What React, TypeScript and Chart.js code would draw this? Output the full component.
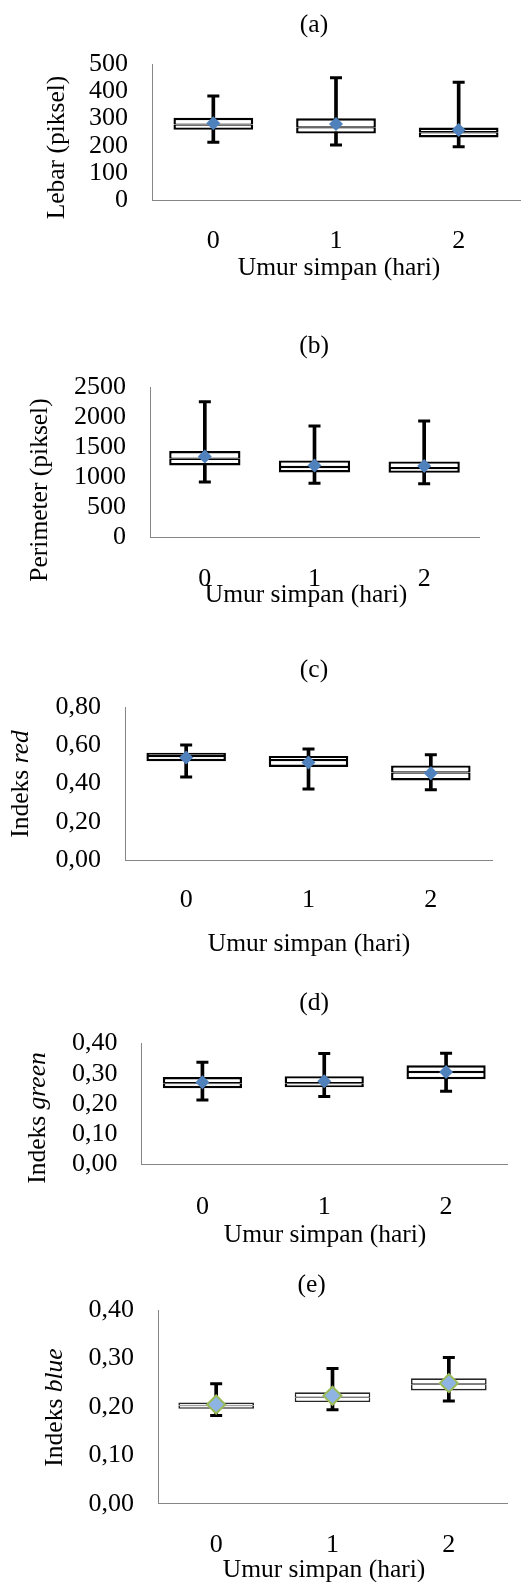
import React, { useEffect, useRef } from 'react';
import { Chart, registerables } from 'chart.js';

Chart.register(...registerables);

const FONT = "'Liberation Serif', 'Times New Roman', Times, serif";

const categories = ['0', '1', '2'];

// (a) Lebar (piksel)
const lebarMin = [213, 203, 197];
const lebarQ1 = [259, 245, 231];
const lebarMedian = [278, 268, 250];
const lebarQ3 = [303, 301, 267];
const lebarMax = [383, 450, 433];
const lebarMean = [283, 280, 258];
const lebarTicks = [0, 100, 200, 300, 400, 500];

// (b) Perimeter (piksel)
const perimeterMin = [920, 903, 892];
const perimeterQ1 = [1197, 1080, 1075];
const perimeterMedian = [1308, 1170, 1153];
const perimeterQ3 = [1437, 1280, 1263];
const perimeterMax = [2253, 1853, 1937];
const perimeterMean = [1347, 1197, 1187];
const perimeterTicks = [0, 500, 1000, 1500, 2000, 2500];

// (c) Indeks red
const redMin = [0.435, 0.372, 0.368];
const redQ1 = [0.517, 0.487, 0.417];
const redMedian = [0.544, 0.523, 0.458];
const redQ3 = [0.561, 0.544, 0.495];
const redMax = [0.602, 0.581, 0.551];
const redMean = [0.537, 0.511, 0.454];
const redTicks = [0, 0.2, 0.4, 0.6, 0.8];

// (d) Indeks green
const greenMin = [0.213, 0.225, 0.242];
const greenQ1 = [0.252, 0.255, 0.282];
const greenMedian = [0.269, 0.269, 0.306];
const greenQ3 = [0.289, 0.292, 0.328];
const greenMax = [0.338, 0.367, 0.368];
const greenMean = [0.272, 0.275, 0.306];
const greenTicks = [0, 0.1, 0.2, 0.3, 0.4];

// (e) Indeks blue
const blueMin = [0.182, 0.194, 0.212];
const blueQ1 = [0.196, 0.21, 0.234];
const blueMedian = [0.203, 0.22, 0.247];
const blueQ3 = [0.209, 0.23, 0.259];
const blueMax = [0.248, 0.279, 0.302];
const blueMean = [0.205, 0.223, 0.249];
const blueTicks = [0, 0.1, 0.2, 0.3, 0.4];

const xAxisTitle = 'Umur simpan (hari)';

type Part = { text: string; italic?: boolean };
type Panel = {
  key: string;
  title: string;
  yTitle: Part[];
  min: number[];
  q1: number[];
  median: number[];
  q3: number[];
  max: number[];
  mean: number[];
  ticks: number[];
  decimals: number;
  top: number;
  h: number;
  plotL: number;
  plotT: number;
  plotB: number;
  plotR: number;
  titleX: number;
  titleY: number;
  yTitleX: number;
  yTitleY: number;
  tickY: number;
  xTitleX: number;
  xTitleY: number;
  boxColor: string;
  boxWidth: number;
  meanFill: string;
  meanBorder: string;
  meanBorderWidth: number;
  meanRadius: number;
};

const W = 529;
const TICK_SIZE = 26;
const TITLE_SIZE = 25.5;

const panels: Panel[] = [
  {
    key: 'a', title: '(a)', yTitle: [{ text: 'Lebar (piksel)' }],
    min: lebarMin, q1: lebarQ1, median: lebarMedian, q3: lebarQ3, max: lebarMax, mean: lebarMean,
    ticks: lebarTicks, decimals: 0,
    top: 0, h: 290, plotL: 152, plotT: 64, plotB: 200.5, plotR: 527,
    titleX: 314, titleY: 25, yTitleX: 57, yTitleY: 147.5, tickY: 241, xTitleX: 339, xTitleY: 268,
    boxColor: '#000', boxWidth: 2.4, meanFill: '#4F81BD', meanBorder: '#4F81BD', meanBorderWidth: 0, meanRadius: 7,
  },
  {
    key: 'b', title: '(b)', yTitle: [{ text: 'Perimeter (piksel)' }],
    min: perimeterMin, q1: perimeterQ1, median: perimeterMedian, q3: perimeterQ3, max: perimeterMax, mean: perimeterMean,
    ticks: perimeterTicks, decimals: 0,
    top: 290, h: 330, plotL: 150, plotT: 387, plotB: 537.5, plotR: 479,
    titleX: 314, titleY: 346.7, yTitleX: 40.7, yTitleY: 490, tickY: 579.5, xTitleX: 306, xTitleY: 595,
    boxColor: '#000', boxWidth: 2.4, meanFill: '#4F81BD', meanBorder: '#4F81BD', meanBorderWidth: 0, meanRadius: 7,
  },
  {
    key: 'c', title: '(c)', yTitle: [{ text: 'Indeks ' }, { text: 'red', italic: true }],
    min: redMin, q1: redQ1, median: redMedian, q3: redQ3, max: redMax, mean: redMean,
    ticks: redTicks, decimals: 2,
    top: 620, h: 340, plotL: 125, plotT: 707, plotB: 860.3, plotR: 492,
    titleX: 314, titleY: 670, yTitleX: 21.7, yTitleY: 784, tickY: 900, xTitleX: 309, xTitleY: 944,
    boxColor: '#000', boxWidth: 2.4, meanFill: '#4F81BD', meanBorder: '#4F81BD', meanBorderWidth: 0, meanRadius: 7,
  },
  {
    key: 'd', title: '(d)', yTitle: [{ text: 'Indeks ' }, { text: 'green', italic: true }],
    min: greenMin, q1: greenQ1, median: greenMedian, q3: greenQ3, max: greenMax, mean: greenMean,
    ticks: greenTicks, decimals: 2,
    top: 960, h: 290, plotL: 141.5, plotT: 1043.5, plotB: 1164.5, plotR: 507,
    titleX: 314, titleY: 1003.3, yTitleX: 38.3, yTitleY: 1118, tickY: 1207, xTitleX: 325, xTitleY: 1235,
    boxColor: '#000', boxWidth: 2.4, meanFill: '#4F81BD', meanBorder: '#4F81BD', meanBorderWidth: 0, meanRadius: 7,
  },
  {
    key: 'e', title: '(e)', yTitle: [{ text: 'Indeks ' }, { text: 'blue', italic: true }],
    min: blueMin, q1: blueQ1, median: blueMedian, q3: blueQ3, max: blueMax, mean: blueMean,
    ticks: blueTicks, decimals: 2,
    top: 1250, h: 332, plotL: 158, plotT: 1310, plotB: 1503.8, plotR: 507,
    titleX: 311.7, titleY: 1285, yTitleX: 55, yTitleY: 1407.5, tickY: 1545, xTitleX: 324, xTitleY: 1570,
    boxColor: '#262626', boxWidth: 1.6, meanFill: '#8EB4E3', meanBorder: '#9BBB59', meanBorderWidth: 2, meanRadius: 9,
  },
];

function BoxPanel({ p }: { p: Panel }) {
  const ref = useRef<HTMLCanvasElement>(null);

  useEffect(() => {
    if (!ref.current) return;
    const top = p.top;
    const fmt = (v: number) => (p.decimals ? v.toFixed(p.decimals).replace('.', ',') : String(v));
    const tickLineHeight = TICK_SIZE * 1.2;
    const xScaleH = p.top + p.h - p.plotB;
    const bw = p.boxWidth;
    const half = bw / 2;

    const textPlugin = {
      id: 'panelText',
      afterDraw(chart: any) {
        const ctx: CanvasRenderingContext2D = chart.ctx;
        ctx.save();
        ctx.fillStyle = '#000';
        ctx.textBaseline = 'middle';
        ctx.textAlign = 'center';
        ctx.font = `${TITLE_SIZE}px ${FONT}`;
        ctx.fillText(p.title, p.titleX, p.titleY - top);
        ctx.fillText(xAxisTitle, p.xTitleX, p.xTitleY - top);
        ctx.translate(p.yTitleX, p.yTitleY - top);
        ctx.rotate(-Math.PI / 2);
        const fonts = p.yTitle.map((part) => `${part.italic ? 'italic ' : ''}${TITLE_SIZE}px ${FONT}`);
        const widths = p.yTitle.map((part, i) => {
          ctx.font = fonts[i];
          return ctx.measureText(part.text).width;
        });
        const total = widths.reduce((a, b) => a + b, 0);
        ctx.textAlign = 'left';
        let x = -total / 2;
        p.yTitle.forEach((part, i) => {
          ctx.font = fonts[i];
          ctx.fillText(part.text, x, 0);
          x += widths[i];
        });
        ctx.restore();
      },
    };

    const chart = new Chart(ref.current, {
      type: 'bar',
      data: {
        labels: categories,
        datasets: [
          {
            type: 'line',
            label: 'Rata-rata',
            data: p.mean,
            showLine: false,
            pointStyle: 'rectRot',
            pointRadius: p.meanRadius,
            pointBackgroundColor: p.meanFill,
            pointBorderColor: p.meanBorder,
            pointBorderWidth: p.meanBorderWidth,
            order: 0,
          } as any,
          {
            type: 'bar',
            label: 'Kuartil 3',
            data: p.median.map((m, i) => [m, p.q3[i]]),
            backgroundColor: '#ffffff',
            borderColor: p.boxColor,
            borderWidth: { top: bw, left: bw, right: bw, bottom: half },
            borderSkipped: false,
            inflateAmount: 0,
            grouped: false,
            barPercentage: 0.65,
            categoryPercentage: 1,
            order: 1,
          } as any,
          {
            type: 'bar',
            label: 'Kuartil 1',
            data: p.q1.map((q, i) => [q, p.median[i]]),
            backgroundColor: '#ffffff',
            borderColor: p.boxColor,
            borderWidth: { top: half, left: bw, right: bw, bottom: bw },
            borderSkipped: false,
            inflateAmount: 0,
            grouped: false,
            barPercentage: 0.65,
            categoryPercentage: 1,
            order: 1,
          } as any,
          {
            type: 'line',
            label: 'Maksimum',
            data: p.max,
            showLine: false,
            pointStyle: 'line',
            pointRadius: 6,
            pointBorderColor: '#000',
            pointBorderWidth: 3,
            order: 2,
          } as any,
          {
            type: 'line',
            label: 'Minimum',
            data: p.min,
            showLine: false,
            pointStyle: 'line',
            pointRadius: 6,
            pointBorderColor: '#000',
            pointBorderWidth: 3,
            order: 2,
          } as any,
          {
            type: 'bar',
            label: 'Whisker',
            data: p.min.map((m, i) => [m, p.max[i]]),
            backgroundColor: '#000',
            borderWidth: 0,
            barThickness: 3,
            grouped: false,
            order: 3,
          } as any,
        ],
      },
      options: {
        responsive: false,
        animation: false,
        devicePixelRatio: 1,
        events: [],
        layout: { padding: { top: p.plotT - top, left: 0, right: W - p.plotR, bottom: 0 } },
        plugins: {
          legend: { display: false },
          tooltip: { enabled: false },
          title: { display: false },
        },
        scales: {
          x: {
            type: 'category',
            offset: true,
            grid: { display: false, drawTicks: false },
            border: { display: true, color: '#868686', width: 1 },
            ticks: {
              color: '#000',
              font: { family: FONT, size: TICK_SIZE, lineHeight: 1.2 },
              padding: p.tickY - p.plotB - tickLineHeight / 2,
              maxRotation: 0,
              autoSkip: false,
            },
            afterFit: (s: any) => {
              s.height = xScaleH;
              s.paddingLeft = 0;
              s.paddingRight = 0;
            },
          },
          y: {
            type: 'linear',
            min: p.ticks[0],
            max: p.ticks[p.ticks.length - 1],
            grid: { display: false, drawTicks: false },
            border: { display: true, color: '#868686', width: 1 },
            ticks: {
              color: '#000',
              font: { family: FONT, size: TICK_SIZE, lineHeight: 1.2 },
              padding: 24,
              autoSkip: false,
              callback: (v: any) => fmt(Number(v)),
            },
            afterBuildTicks: (s: any) => {
              s.ticks = p.ticks.map((v) => ({ value: v }));
            },
            afterFit: (s: any) => {
              s.width = p.plotL;
              s.paddingTop = 0;
              s.paddingBottom = 0;
            },
          },
        },
      } as any,
      plugins: [textPlugin],
    });

    return () => chart.destroy();
  }, [p]);

  return (
    <canvas
      ref={ref}
      width={W}
      height={p.h}
      style={{ position: 'absolute', left: 0, top: p.top, width: W, height: p.h, display: 'block' }}
    />
  );
}

export default function App() {
  return (
    <div style={{ position: 'absolute', left: 0, top: 0, width: W, height: 1582, background: '#ffffff', overflow: 'hidden' }}>
      {panels.map((p) => (
        <BoxPanel key={p.key} p={p} />
      ))}
    </div>
  );
}
